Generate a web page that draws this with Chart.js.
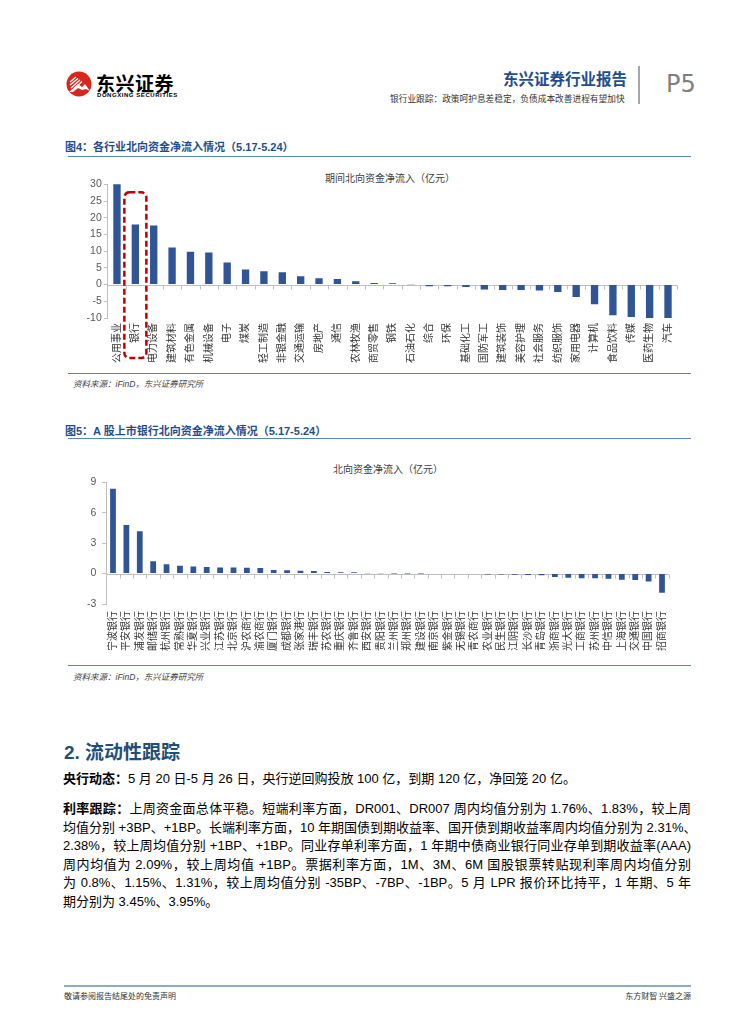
<!DOCTYPE html>
<html>
<head>
<meta charset="utf-8">
<script src="https://cdn.jsdelivr.net/npm/chart.js@4.4.1/dist/chart.umd.min.js"></script>
<style>
  body { margin: 0; background: #fff; }
  #page { position: relative; width: 755px; height: 1024px; overflow: hidden;
    font-family: "Liberation Sans", "Noto Sans CJK SC", sans-serif; color: #000; }
  .abs { position: absolute; white-space: nowrap; }
  .figtitle { font-size: 11px; font-weight: bold; color: #1f4e8c; }
  .rule { position: absolute; height: 0; border-top: 1.5px solid #5a86b5; }
  .source { font-size: 8.5px; font-style: italic; color: #404040; }
  .ctitle { font-size: 10px; color: #404040; transform: translateX(-50%); }
  .para { position: absolute; left: 63px; width: 628px; font-size: 13px; }
  .line { height: 18.6px; line-height: 18.6px; text-align: justify; text-align-last: justify; white-space: nowrap; }
  .line.last { text-align-last: left; }
  b { font-weight: bold; }
</style>
</head>
<body>
<div id="page">
  <!-- header -->
  <svg class="abs" style="left:65px;top:70px" width="30" height="30" viewBox="0 0 30 30">
    <circle cx="14" cy="14" r="12.5" fill="#d7261e"/>
    <g stroke="#fff" stroke-width="1.3" fill="none">
      <path d="M5 12 L11 7"/><path d="M5 15 L13 8.5"/><path d="M6 18 L15 10"/><path d="M8 20 L17 11.5"/>
    </g>
    <path d="M4 22 L13 14 L17 17 L20 14 L25 21 L21 19 L17 20 L13 18 L8 22 Z" fill="#fff"/>
  </svg>
  <div class="abs" style="left:96px;top:69px;font-size:19px;font-weight:bold;letter-spacing:0.5px;font-family:'Noto Sans CJK SC'">东兴证券</div>
  <div class="abs" style="left:97px;top:92px;font-size:6px;font-weight:bold;letter-spacing:0.55px">DONGXING SECURITIES</div>
  <div class="abs" style="left:503px;top:67px;font-size:15.5px;font-weight:bold;color:#1f4e8c;font-family:'Noto Sans CJK SC'">东兴证券行业报告</div>
  <div class="abs" style="left:390px;top:92px;font-size:8.7px;color:#333;font-family:'Noto Sans CJK SC'">银行业跟踪：政策呵护息差稳定，负债成本改善进程有望加快</div>
  <div class="abs" style="left:638px;top:66px;width:2px;height:38px;background:#a6a6a6"></div>
  <div class="abs" style="left:666px;top:70px;font-size:24px;color:#7f7f7f;font-family:'DejaVu Sans'">P5</div>

  <!-- figure 4 -->
  <div class="abs figtitle" style="left:65px;top:138px">图4：各行业北向资金净流入情况（5.17-5.24）</div>
  <div class="rule" style="left:68px;width:623px;top:156px"></div>
  <div class="abs ctitle" style="left:390px;top:170px">期间北向资金净流入（亿元）</div>
  <div class="abs" style="left:60px;top:176px;width:640px;height:192px"><canvas id="chart1"></canvas></div>
  <div class="rule" style="left:68px;width:623px;top:373px"></div>
  <div class="abs source" style="left:73px;top:377px">资料来源：iFinD，东兴证券研究所</div>

  <!-- figure 5 -->
  <div class="abs figtitle" style="left:65px;top:422px">图5：A 股上市银行北向资金净流入情况（5.17-5.24）</div>
  <div class="rule" style="left:68px;width:623px;top:438px"></div>
  <div class="abs ctitle" style="left:388px;top:461px">北向资金净流入（亿元）</div>
  <div class="abs" style="left:60px;top:470px;width:640px;height:190px"><canvas id="chart2"></canvas></div>
  <div class="rule" style="left:68px;width:623px;top:665px"></div>
  <div class="abs source" style="left:73px;top:670px">资料来源：iFinD，东兴证券研究所</div>

  <!-- text -->
  <div class="abs" style="left:64px;top:737px;font-size:19px;font-weight:bold;color:#1f4e79;font-family:'Liberation Sans','Noto Sans CJK SC'">2.&nbsp;流动性跟踪</div>
  <div class="para" style="top:770px">
    <div class="line last"><b>央行动态：</b>5 月 20 日-5 月 26 日，央行逆回购投放 100 亿，到期 120 亿，净回笼 20 亿。</div>
  </div>
  <div class="para" style="top:800px">
    <div class="line"><b>利率跟踪：</b>上周资金面总体平稳。短端利率方面，DR001、DR007 周内均值分别为 1.76%、1.83%，较上周</div>
    <div class="line">均值分别 +3BP、+1BP。长端利率方面，10 年期国债到期收益率、国开债到期收益率周内均值分别为 2.31%、</div>
    <div class="line">2.38%，较上周均值分别 +1BP、+1BP。同业存单利率方面，1 年期中债商业银行同业存单到期收益率(AAA)</div>
    <div class="line">周内均值为 2.09%，较上周均值 +1BP。票据利率方面，1M、3M、6M 国股银票转贴现利率周内均值分别</div>
    <div class="line">为 0.8%、1.15%、1.31%，较上周均值分别 -35BP、-7BP、-1BP。5 月 LPR 报价环比持平，1 年期、5 年</div>
    <div class="line last">期分别为 3.45%、3.95%。</div>
  </div>

  <!-- footer -->
  <div class="rule" style="left:64px;width:627px;top:985px;border-top:2px solid #8eaacb"></div>
  <div class="abs" style="left:64px;top:990px;font-size:8px;color:#333;font-family:'Noto Sans CJK SC'">敬请参阅报告结尾处的免责声明</div>
  <div class="abs" style="right:64px;top:990px;font-size:8px;color:#333;font-family:'Noto Sans CJK SC'">东方财智 兴盛之源</div>
</div>

<script>
const industries = ['公用事业', '银行', '电力设备', '建筑材料', '有色金属', '机械设备', '电子', '煤炭',
  '轻工制造', '非银金融', '交通运输', '房地产', '通信', '农林牧渔', '商贸零售', '钢铁', '石油石化',
  '综合', '环保', '基础化工', '国防军工', '建筑装饰', '美容护理', '社会服务', '纺织服饰', '家用电器',
  '计算机', '食品饮料', '传媒', '医药生物', '汽车'];
const industryFlow = [30.1, 18.0, 17.7, 11.1, 9.8, 9.6, 6.6, 4.5, 4.0, 3.7, 2.5, 1.9, 1.7, 1.0, 0.5,
  0.4, 0.1, -0.5, -0.5, -0.7, -1.5, -1.6, -1.6, -1.8, -2.2, -3.7, -5.9, -9.2, -9.7, -10.3, -10.3];

const banks = ['宁波银行', '平安银行', '浦发银行', '邮储银行', '杭州银行', '常熟银行', '华夏银行', '兴业银行',
  '江苏银行', '北京银行', '沪农商行', '渝农商行', '厦门银行', '成都银行', '张家港行', '瑞丰银行', '苏农银行',
  '重庆银行', '齐鲁银行', '西安银行', '贵阳银行', '兰州银行', '郑州银行', '建设银行', '南京银行', '紫金银行',
  '无锡银行', '青农商行', '农业银行', '民生银行', '江阴银行', '长沙银行', '青岛银行', '浙商银行', '光大银行',
  '工商银行', '苏州银行', '中信银行', '上海银行', '交通银行', '中国银行', '招商银行'];
const bankFlow = [8.36, 4.79, 4.18, 1.21, 0.93, 0.77, 0.70, 0.64, 0.61, 0.60, 0.57, 0.55, 0.35, 0.32,
  0.29, 0.25, 0.16, 0.13, 0.12, 0.04, 0.02, 0.01, 0.01, 0.01, 0.0, 0.0, 0.0, -0.05, -0.08, -0.10,
  -0.12, -0.13, -0.16, -0.35, -0.41, -0.45, -0.45, -0.50, -0.60, -0.64, -0.77, -1.88];

const ticks1 = [-10, -5, 0, 5, 10, 15, 20, 25, 30];
const ticks2 = [-3, 0, 3, 6, 9];

const FONT = '"Liberation Sans", "Noto Sans CJK SC", sans-serif';
const BAR = '#2f5597';
const AXIS = '#bfbfbf';

// zero line with category tick marks, like the Excel axis
const zeroLine = {
  id: 'zeroLine',
  beforeDatasetsDraw(chart) {
    const { ctx, chartArea, scales: { x, y } } = chart;
    const y0 = Math.round(y.getPixelForValue(0)) + 0.5;
    const n = chart.data.labels.length;
    const step = (chartArea.right - chartArea.left) / n;
    ctx.save();
    ctx.strokeStyle = AXIS;
    ctx.lineWidth = 1;
    ctx.beginPath();
    ctx.moveTo(chartArea.left, y0);
    ctx.lineTo(chartArea.right, y0);
    for (let i = 1; i <= n; i++) {
      const px = Math.round(chartArea.left + i * step) + 0.5;
      ctx.moveTo(px, y0);
      ctx.lineTo(px, y0 + 4);
    }
    ctx.stroke();
    ctx.restore();
  }
};

// red dashed box around the 银行 column
const highlight = {
  id: 'highlight',
  afterDraw(chart) {
    const { ctx, chartArea, scales: { x, y } } = chart;
    const cx = x.getPixelForValue(1);
    const left = cx - 11, right = cx + 11;
    const top = y.getPixelForValue(27.6), bottom = chartArea.bottom + 40;
    ctx.save();
    ctx.strokeStyle = '#c00000';
    ctx.lineWidth = 2.5;
    ctx.setLineDash([6, 3]);
    ctx.beginPath();
    ctx.roundRect(left, top, right - left, bottom - top, 5);
    ctx.stroke();
    ctx.restore();
  }
};

function makeChart(id, labels, values, tickVals, opts) {
  return new Chart(document.getElementById(id), {
    type: 'bar',
    data: {
      labels: labels,
      datasets: [{
        data: values,
        backgroundColor: BAR,
        barPercentage: opts.bar,
        categoryPercentage: 1
      }]
    },
    options: {
      responsive: true,
      maintainAspectRatio: false,
      animation: false,
      layout: { padding: opts.padding },
      plugins: { legend: { display: false }, title: { display: false }, tooltip: { enabled: false } },
      scales: {
        x: {
          grid: { display: false, drawTicks: false },
          border: { display: false },
          ticks: {
            autoSkip: false, maxRotation: 90, minRotation: 90, padding: opts.xPad,
            color: '#333333', font: { family: FONT, size: 10 }
          },
          afterFit: s => { s.height = opts.xHeight; }
        },
        y: {
          min: tickVals[0],
          max: tickVals[tickVals.length - 1],
          afterBuildTicks: s => { s.ticks = tickVals.map(v => ({ value: v })); },
          grid: { drawOnChartArea: false, drawTicks: true, tickLength: 4, color: AXIS },
          border: { display: true, color: AXIS },
          ticks: { padding: opts.yPad, color: '#595959', font: { family: FONT, size: 10.5 } },
          afterFit: s => { s.width = opts.yWidth; }
        }
      }
    },
    plugins: opts.plugins
  });
}

makeChart('chart1', industries, industryFlow, ticks1, {
  bar: 0.4, padding: { top: 8, bottom: 4, left: 0, right: 22.8 },
  xHeight: 46, xPad: 5, yWidth: 47.8, yPad: 2, plugins: [zeroLine, highlight]
});

makeChart('chart2', banks, bankFlow, ticks2, {
  bar: 0.43, padding: { top: 7.7, bottom: 2, left: 0, right: 31.3 },
  xHeight: 54, xPad: 7, yWidth: 46.3, yPad: 6, plugins: [zeroLine]
});
</script>
</body>
</html>
